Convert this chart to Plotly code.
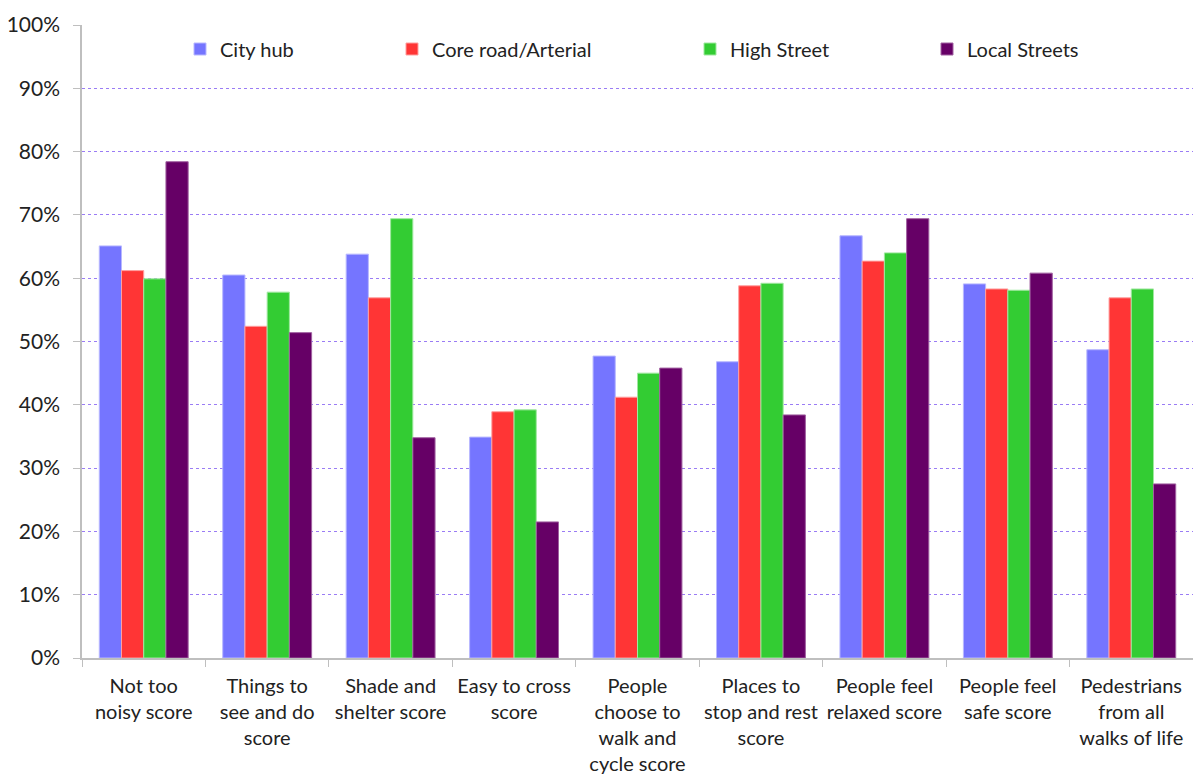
import plotly.graph_objects as go

categories = [
    "Not too<br>noisy score",
    "Things to<br>see and do<br>score",
    "Shade and<br>shelter score",
    "Easy to cross<br>score",
    "People<br>choose to<br>walk and<br>cycle score",
    "Places to<br>stop and rest<br>score",
    "People feel<br>relaxed score",
    "People feel<br>safe score",
    "Pedestrians<br>from all<br>walks of life",
]

series_names = ["City hub", "Core road/Arterial", "High Street", "Local Streets"]
city_hub = [65.1, 60.5, 63.8, 34.9, 47.7, 46.8, 66.7, 59.1, 48.7]
core_road = [61.2, 52.4, 56.9, 38.9, 41.2, 58.8, 62.7, 58.3, 56.9]
high_street = [59.9, 57.8, 69.4, 39.2, 45.0, 59.2, 64.0, 58.1, 58.3]
local_streets = [78.4, 51.4, 34.8, 21.5, 45.8, 38.4, 69.4, 60.8, 27.5]

y_ticks = [0, 10, 20, 30, 40, 50, 60, 70, 80, 90, 100]
y_tick_labels = [f"{v}%" for v in y_ticks]

colors = ["#7575ff", "#ff3535", "#33cc33", "#660066"]
edge_colors = ["#b8b8ff", "#ff9f9f", "#a0e8a0", "#a060a0"]
legend_text_x = [220, 432, 730, 967]

values = [city_hub, core_road, high_street, local_streets]

W, H = 1193, 776
fig = go.Figure()
legend_ids = ["legend", "legend2", "legend3", "legend4"]
for i, (name, vals) in enumerate(zip(series_names, values)):
    fig.add_trace(go.Bar(
        x=categories, y=vals, name=name,
        marker=dict(color=colors[i], line=dict(color=edge_colors[i], width=1)),
        legend=legend_ids[i], showlegend=True,
    ))

font_family = "Lato, 'Open Sans', sans-serif"
layout_legends = {}
for i, lid in enumerate(legend_ids):
    layout_legends[lid] = dict(
        x=(legend_text_x[i] - 40) / W, y=1 - 49 / H,
        xref="container", yref="container",
        xanchor="left", yanchor="middle",
        orientation="h", bgcolor="rgba(0,0,0,0)",
        font=dict(family=font_family, size=20, color="#222222"),
        visible=True,
    )

fig.update_layout(
    width=W, height=H,
    paper_bgcolor="white", plot_bgcolor="white",
    margin=dict(l=82, r=0, t=25, b=118, autoexpand=False),
    barmode="group", bargap=0.28, bargroupgap=0,
    font=dict(family=font_family, size=20, color="#222222"),
    **layout_legends,
)
fig.update_xaxes(
    tickson="boundaries", ticks="outside", ticklen=7, tickcolor="#bfbfbf",
    showline=True, linecolor="#bfbfbf", linewidth=1.5,
    tickangle=0, showgrid=False, ticklabelstandoff=9,
    tickfont=dict(family=font_family, size=20, color="#222222"),
)
fig.update_yaxes(
    range=[0, 100], tickvals=y_ticks, ticktext=y_tick_labels,
    ticks="outside", ticklen=7, tickcolor="#bfbfbf",
    showline=True, linecolor="#bfbfbf", linewidth=1.5,
    showgrid=True, gridcolor="#9a7cf5", griddash="dot", gridwidth=1,
    zeroline=False, ticklabelstandoff=9,
    tickfont=dict(family=font_family, size=21, color="#222222"),
)

fig.write_html(
    "out.html",
    config={"displayModeBar": False},
    post_script="document.body.style.margin='0';document.body.style.overflow='hidden';",
)
